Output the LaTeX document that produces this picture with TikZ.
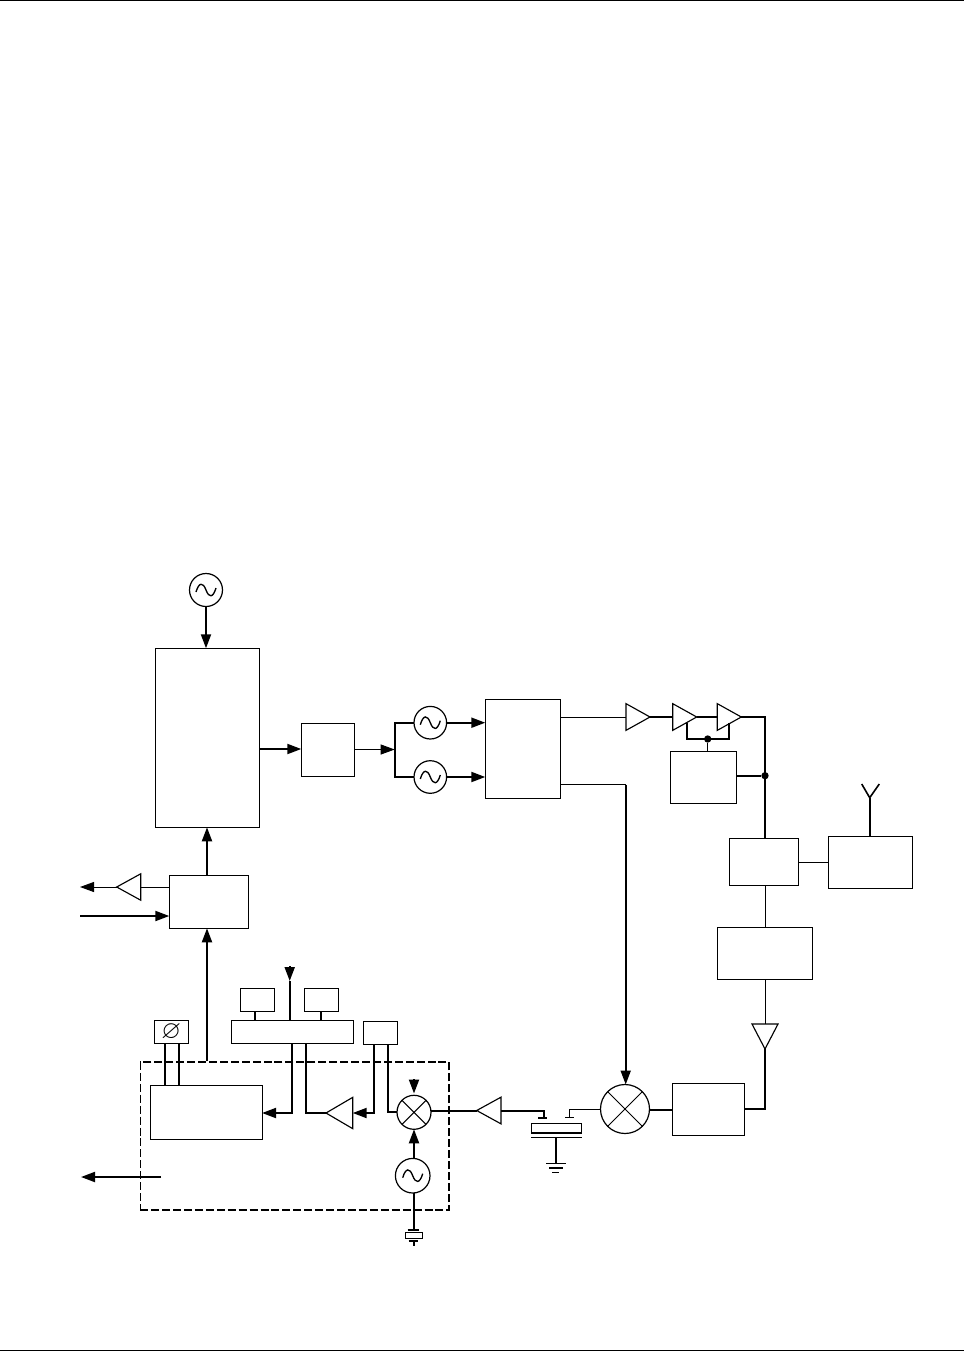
\documentclass[tikz,border=0pt]{standalone}
\usepackage{amssymb}
\usetikzlibrary{arrows.meta,shapes.geometric,calc}
\tikzset{
  blk/.style 2 args={draw,line width=0.75pt,rectangle,inner sep=0pt,outer sep=0pt,minimum width=#1*0.75pt,minimum height=#2*0.75pt},
  rnd/.style={draw,line width=0.9pt,circle,inner sep=0pt,outer sep=0pt,minimum size=#1*0.75pt},
  osc/.style={rnd=#1,path picture={\draw[line width=1pt] ($(path picture bounding box.center)+(-10,2)$) .. controls +(3,-10) and +(-3,-8) .. ++(10,-2) .. controls +(3,8) and +(-3,10) .. ++(10,-2);}},
  mix/.style={rnd=#1,path picture={\draw[line width=0.75pt] (path picture bounding box.north west)--(path picture bounding box.south east) (path picture bounding box.north east)--(path picture bounding box.south west);}},
  amp/.style n args={3}{draw,line width=0.85pt,isosceles triangle,isosceles triangle stretches,inner sep=0pt,outer sep=0pt,minimum height=#1*0.75pt,minimum width=#2*0.75pt,shape border rotate=#3,anchor=apex},
  lean/.style={line width=0.75pt},
  wire/.style={line width=1.5pt},
  arr/.style={-{Triangle[length=10.5pt,width=7.5pt]}},
  jn/.style={circle,fill=black,inner sep=0pt,minimum size=5.5pt}
}
\begin{document}
\begin{tikzpicture}[x=0.75pt,y=-0.75pt]
\useasboundingbox (0,0) rectangle (964,1352);
\coordinate (rulea) at (0,0.5);\coordinate (ruleb) at (964,0.5);\coordinate (rulec) at (0,1350.5);\coordinate (ruled) at (964,1350.5);
\draw[line width=0.9pt] (rulea)--(ruleb);\draw[line width=0.9pt] (rulec)--(ruled);
\node[osc=33] (refosc) at (206,590) {};
\node[blk={104}{179}] (baseband) at (207.3,737.8) {};
\node[blk={53.4}{53}] (divider) at (328,749.8) {};
\node[osc=32.6] (osci) at (430.3,722.7) {};\node[osc=32.6] (oscq) at (430.3,777) {};
\node[blk={75.4}{99}] (quad) at (523,748.8) {};
\node[blk={79.4}{53}] (codec) at (209,901.8) {};
\node[blk={66.4}{52}] (apc) at (703.5,777.3) {};
\node[blk={69.4}{47}] (duplex) at (764,861.8) {};
\node[blk={84.4}{52}] (antbox) at (870.5,862.3) {};
\node[blk={95}{52}] (rxfilter) at (764.5,953) {};
\node[blk={72.4}{52}] (upconv) at (708.5,1109.3) {};
\node[mix=49] (rfmix) at (625,1109) {};
\node[blk={111.7}{54.3}] (dsp) at (206.2,1112.2) {};
\node[blk={34}{23}] (phase) at (171.3,1031.8) {\fontsize{19}{19}\selectfont$\varnothing$};
\node[blk={122.3}{23}] (bus) at (292.8,1031.8) {};
\node[blk={34}{23}] (keya) at (257.3,999.8) {};\node[blk={34}{23}] (keyb) at (321.3,999.8) {};
\node[blk={34}{23}] (keyc) at (380.3,1032.8) {};
\node[mix=34] (ifmix) at (414,1112.3) {};
\node[osc=34.6] (ifosc) at (412.7,1175.7) {};
\node[draw,dashed,dash pattern=on 6pt off 2.2pt,line width=1pt,inner sep=0pt,minimum width=308.7*0.75pt,minimum height=148*0.75pt] (rxbox) at (294.6,1136) {};
\node[amp={24}{26.7}{0}] (txa) at (650,717) {};\node[amp={24}{26.7}{0}] (txb) at (696.7,717) {};\node[amp={24}{26.7}{0}] (txc) at (741.3,717) {};
\node[amp={24}{26.4}{180}] (sideamp) at (116.7,887) {};
\node[amp={25}{26}{-90}] (lna) at (765,1049) {};
\node[amp={24.3}{26.7}{180}] (ifamp) at (476.7,1110.5) {};
\node[amp={26.7}{31.3}{180}] (agc) at (326,1113) {};
\node[jn] (jna) at (707.7,739) {};\node[jn] (jnb) at (765,775.7) {};
\coordinate (outa) at (80,887);\coordinate (ina) at (80,916);\coordinate (outb) at (81,1177);\coordinate (outc) at (161,1177);
\coordinate (bend) at (394.7,749.5);\coordinate (turn) at (625.7,784.5);
\draw[wire,arr] (refosc.south)--(refosc.south |- baseband.north);
\draw[wire,arr] (baseband.east |- 0,749)--(divider.west |- 0,749);
\draw[lean,arr] (divider.east |- bend)--(bend);
\draw[wire] (osci.west)-|(bend)|-(oscq.west);
\draw[wire,arr] (osci.east)--(quad.west |- osci.east);\draw[wire,arr] (oscq.east)--(quad.west |- oscq.east);
\draw[wire,arr] (codec.north -| 207,0)--(baseband.south -| 207,0);
\draw[lean] (codec.west |- sideamp.lower side)--(sideamp.lower side);
\draw[lean,arr] (sideamp.apex)--(outa);
\draw[wire,arr] (ina)--(codec.west |- ina);
\draw[wire,arr] (rxbox.north -| 207,0)--(codec.south -| 207,0);
\draw[lean] (quad.east |- txa.lower side)--(txa.lower side);
\draw[wire] (txa.apex)--(txb.lower side) (txb.apex)--(txc.lower side);
\draw[wire] (txc.apex)-|(duplex.north -| jnb);
\draw[wire] (686.7,723)|-(jna.center)-|(729.3,723);
\draw[lean] (jna)--(jna |- apc.north);
\draw[wire] (apc.east |- jnb)--(jnb);
\draw[lean] (duplex.east |- antbox.west)--(antbox.west);
\draw[lean] (duplex.south -| 765.5,0)--(rxfilter.north -| 765.5,0);
\draw[lean] (rxfilter.south -| 765,0)--(lna.lower side);
\draw[wire] (lna.apex)|-(upconv.east |- 0,1109);
\draw[wire] (rfmix.east |- 0,1110)--(upconv.west |- 0,1110);
\draw[line width=0.9pt] (quad.east |- turn)--(turn);
\draw[wire,arr] (turn)--(turn |- rfmix.north);
\coordinate (antfoot) at (869.7,797.7);\coordinate (antl) at (861.7,784);\coordinate (antr) at (879.3,784);
\draw[wire] (antbox.north -| antfoot)--(antfoot);\draw[line width=1.2pt] (antl)--(antfoot)--(antr);
\node[blk={50}{10}] (sawbody) at (556.7,1128.3) {};
\coordinate (sawa) at (543.7,1117.7);\coordinate (sawb) at (569.3,1117.7);\coordinate (sawplate) at (556,1137.5);\coordinate (gnd) at (556,1163.3);
\draw[wire] (531.7,1133.3)--(581.7,1133.3);
\draw[line width=0.9pt] (531,1137.5)--(582,1137.5);
\draw[wire] (ifamp.lower side)-|(sawa);\draw[wire] (538.3,1117.7)--(547,1117.7);
\draw[lean] (rfmix.west)-|(sawb);\draw[lean] (565,1117.7)--(574,1117.7);
\draw[wire] (sawplate)--(gnd);
\draw[line width=0.9pt] (546.3,1163.3)--(566,1163.3) (549.3,1168)--(562.7,1168);\draw[lean] (552,1172.3)--(559.3,1172.3);
\draw[wire] (ifmix.east |- ifamp.apex)--(ifamp.apex);
\draw[wire] (phase.south -| 165,0)--(dsp.north -| 165,0);\draw[wire] (phase.south -| 179,0)--(dsp.north -| 179,0);
\draw[wire] (keya.south -| 255,0)--(bus.north -| 255,0);\draw[wire] (keyb.south -| 321,0)--(bus.north -| 321,0);
\coordinate (tipa) at (289.7,981);\coordinate (taila) at (289.7,966);\coordinate (tipb) at (414,1093.5);\coordinate (tailb) at (414,1079.3);
\draw[wire] (bus.north -| tipa)--(tipa);\draw[wire,arr] (taila)--(tipa);\draw[wire,arr] (tailb)--(tipb);
\draw[wire,arr] (bus.south -| 292.3,0)|-(dsp.east |- 0,1113);
\draw[wire] (bus.south -| 306,0)|-(agc.apex);
\draw[wire,arr] (keyc.south -| 374,0)|-(agc.lower side);
\draw[wire] (keyc.south -| 388,0)|-(ifmix.west);
\draw[wire,arr] (ifosc.north -| ifmix.south)--(ifmix.south);
\draw[wire,arr] (outc)--(outb);
\node[blk={16.6}{5.6}] (xtal) at (414,1235.5) {};
\coordinate (xtop) at (414,1229.8);\coordinate (xbot) at (414,1241);\coordinate (xend) at (414,1246);
\draw[wire] (ifosc.south -| xtop)--(xtop);\draw[wire] (407.7,1229.8)--(419.3,1229.8);
\draw[wire] (408.7,1241)--(418.3,1241);\draw[wire] (xbot)--(xend);
\end{tikzpicture}
\end{document}
